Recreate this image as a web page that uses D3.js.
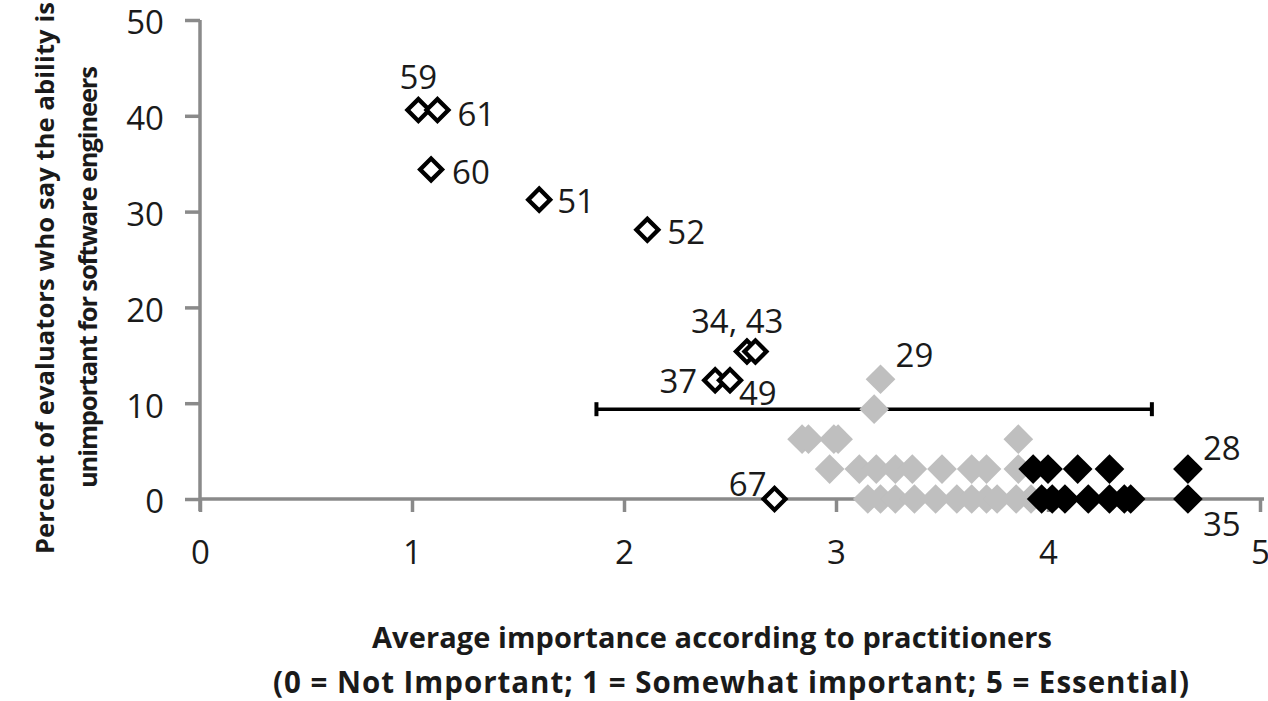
<!DOCTYPE html>
<html>
<head>
<meta charset="utf-8">
<script src="https://cdn.jsdelivr.net/npm/d3@7"></script>
<style>
  html, body { margin: 0; padding: 0; background: #fff; }
  svg { display: block; }
  text { font-family: "Open Sans", "DejaVu Sans", sans-serif; fill: #1a1a1a; }
</style>
</head>
<body>
<svg id="chart" width="1268" height="701"></svg>
<script>
// ---------------- DATA ----------------
const xTicks = [0, 1, 2, 3, 4, 5];
const yTicks = [0, 10, 20, 30, 40, 50];

// Low-importance abilities (open diamonds)
const openIds = ["59", "61", "60", "51", "52", "34", "43", "37", "49", "67"];
const openX   = [1.03, 1.12, 1.09, 1.60, 2.11, 2.58, 2.62, 2.43, 2.50, 2.71];
const openY   = [40.6, 40.6, 34.4, 31.25, 28.1, 15.4, 15.4, 12.4, 12.4, 0];

// Mid-importance abilities (grey diamonds)
const greyX = [3.21, 3.18,
  2.84, 2.87, 2.99, 3.01, 3.86,
  2.97, 3.11, 3.19, 3.28, 3.36, 3.50, 3.64, 3.71, 3.86,
  3.15, 3.21, 3.28, 3.37, 3.47, 3.57, 3.64, 3.71, 3.76, 3.85, 3.92];
const greyY = [12.5, 9.375,
  6.25, 6.25, 6.25, 6.25, 6.25,
  3.125, 3.125, 3.125, 3.125, 3.125, 3.125, 3.125, 3.125, 3.125,
  0, 0, 0, 0, 0, 0, 0, 0, 0, 0, 0];

// High-importance abilities (black diamonds)
const blackX = [3.93, 4.00, 4.14, 4.29, 4.66,
  3.97, 4.02, 4.08, 4.19, 4.29, 4.36, 4.39, 4.66];
const blackY = [3.125, 3.125, 3.125, 3.125, 3.125,
  0, 0, 0, 0, 0, 0, 0, 0];

// Error bar (spread of average importance)
const errLow = 1.87, errHigh = 4.49, errY = 9.375;

// Point labels: text and the data point they annotate
const labelText  = ["59", "61", "60", "51", "52", "34, 43", "37", "49", "29", "67", "28", "35"];
const labelX     = [1.03, 1.12, 1.09, 1.60, 2.11, 2.60, 2.43, 2.50, 3.21, 2.71, 4.66, 4.66];
const labelY     = [40.6, 40.6, 34.4, 31.25, 28.1, 15.4, 12.4, 12.4, 12.5, 0, 3.125, 0];

// ---------------- LAYOUT / STYLE ----------------
const labelOffsets = [ // dx, dy (to text centre), anchor
  [0, -33, "middle"], [20, 4, "start"], [21, 3, "start"], [18, 1, "start"], [20, 2, "start"],
  [-14, -30, "middle"], [-18, 1, "end"], [9, 13, "start"], [15, -24, "start"],
  [-8, -15, "end"], [15, -21, "start"], [15, 25, "start"]
];

const svg = d3.select("#chart");
const x = d3.scaleLinear().domain([0, 5]).range([200, 1260]);
const y = d3.scaleLinear().domain([0, 50]).range([499, 20]);
const axisColor = "#8a8a8a";
const tickFont = "33px";

// Axes
const yAxis = d3.axisLeft(y).tickValues(yTicks).tickFormat(d3.format("d")).tickSize(15).tickPadding(21);
const gy = svg.append("g").attr("transform", `translate(${x(0)},0)`).call(yAxis);
gy.select(".domain").attr("stroke", axisColor).attr("stroke-width", 3.5)
  .attr("d", `M0,${y(50)}V${y(0) + 12}`);
gy.selectAll(".tick line").attr("stroke", axisColor).attr("stroke-width", 3.5);
gy.selectAll(".tick text").style("font-size", tickFont).attr("fill", "#1a1a1a").attr("dy", "0.42em");

const xAxis = d3.axisBottom(x).tickValues(xTicks).tickFormat(d3.format("d")).tickSize(13).tickPadding(29);
const gx = svg.append("g").attr("transform", `translate(0,${y(0)})`).call(xAxis);
gx.select(".domain").attr("stroke", axisColor).attr("stroke-width", 3.5)
  .attr("d", `M${x(0)},0H${x(5) + 4}`);
gx.selectAll(".tick line").attr("stroke", axisColor).attr("stroke-width", 3.5);
gx.selectAll(".tick text").style("font-size", tickFont).attr("fill", "#1a1a1a");

// Error bar
const eb = svg.append("g");
eb.append("line").attr("x1", x(errLow)).attr("x2", x(errHigh))
  .attr("y1", y(errY)).attr("y2", y(errY)).attr("stroke", "#000").attr("stroke-width", 3.5);
[errLow, errHigh].forEach(v => {
  eb.append("line").attr("x1", x(v)).attr("x2", x(v))
    .attr("y1", y(errY) - 7).attr("y2", y(errY) + 7)
    .attr("stroke", "#000").attr("stroke-width", 4);
});

// Diamond helper (square rotated 45deg)
function diamonds(g, xs, ys, side, fill, stroke, sw) {
  g.selectAll("rect").data(xs.map((v, i) => [v, ys[i]])).join("rect")
    .attr("x", -side / 2).attr("y", -side / 2)
    .attr("width", side).attr("height", side)
    .attr("transform", d => `translate(${x(d[0])},${y(d[1])}) rotate(45)`)
    .attr("fill", fill).attr("stroke", stroke).attr("stroke-width", sw);
}

diamonds(svg.append("g"), greyX, greyY, 21, "#bfbfbf", "none", 0);
diamonds(svg.append("g"), blackX, blackY, 21, "#000", "none", 0);
diamonds(svg.append("g"), openX, openY, 15.5, "#fff", "#000", 4.3);

// Labels
svg.append("g").selectAll("text").data(labelText).join("text")
  .attr("x", (d, i) => x(labelX[i]) + labelOffsets[i][0])
  .attr("y", (d, i) => y(labelY[i]) + labelOffsets[i][1])
  .attr("dy", "0.36em")
  .attr("text-anchor", (d, i) => labelOffsets[i][2])
  .style("font-size", "33px")
  .text(d => d);

// Axis titles
const xt = svg.append("g").attr("text-anchor", "middle").style("font-weight", "bold");
xt.append("text").attr("x", 712).attr("y", 648).style("font-size", "29px")
  .attr("textLength", 680).attr("lengthAdjust", "spacing")
  .text("Average importance according to practitioners");
xt.append("text").attr("x", 731).attr("y", 693).style("font-size", "29.5px")
  .attr("textLength", 916).attr("lengthAdjust", "spacing")
  .text("(0 = Not Important; 1 = Somewhat important; 5 = Essential)");

const yt = svg.append("g").attr("text-anchor", "middle").style("font-weight", "bold").style("font-size", "25.5px");
yt.append("text").attr("transform", "translate(54,278) rotate(-90)")
  .attr("textLength", 552).attr("lengthAdjust", "spacing")
  .text("Percent of evaluators who say the ability is");
yt.append("text").attr("transform", "translate(97,277) rotate(-90)")
  .attr("textLength", 422).attr("lengthAdjust", "spacing")
  .text("unimportant for software engineers");
</script>
</body>
</html>
